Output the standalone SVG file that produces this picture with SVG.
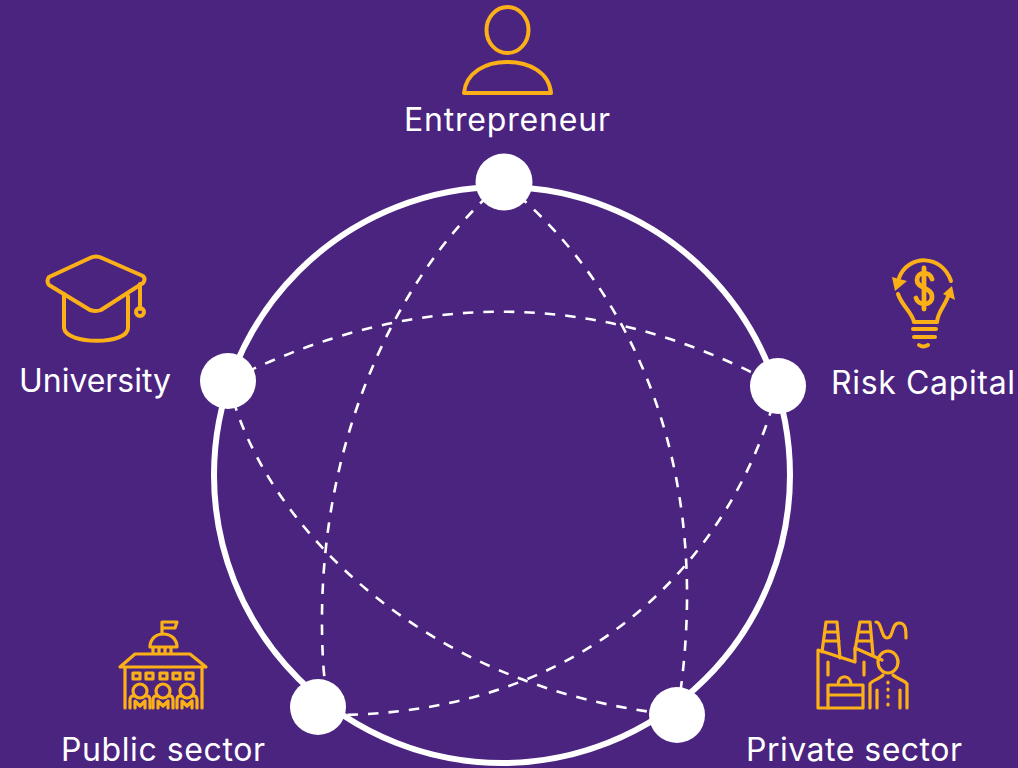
<svg xmlns="http://www.w3.org/2000/svg" width="1018" height="768" viewBox="0 0 1018 768">
<style>
.ic{fill:none;stroke:#fbb017;stroke-width:4;stroke-linejoin:round;stroke-linecap:round}
.th{stroke-width:3.200}
.lb{font-family:"Inter","Noto Sans",sans-serif;font-size:32px;fill:#fff;text-anchor:middle;font-weight:400}
.d{fill:none;stroke:#fff;stroke-width:2.600;stroke-dasharray:10.500 10}
.n{fill:#fff}
.ah{fill:#fbb017}
</style>
<defs>
<g id="person">
<circle class="ic th" cx="0" cy="691" r="7"/>
<path class="ic th" d="M-10 708V700Q-10 695 -5 696M10 708V700Q10 695 5 696M-5 708V701L0 706L5 701V708"/>
</g>
</defs>
<rect width="1018" height="768" fill="#4b2480"/>
<circle cx="502" cy="475" r="288" fill="none" stroke="#fff" stroke-width="6"/>
<g id="connectors">
<path class="d" d="M503 183C420 250 310 420 323 660Q324 680 328 700"/>
<path class="d" d="M503 183C590 250 725 420 677 715"/>
<path class="d" d="M228 381Q510 240 778 386"/>
<path class="d" d="M228 381C260 520 420 690 677 715"/>
<path class="d" d="M778 386C745 520 620 720 319 715"/>
</g>
<g id="entrepreneur">
<ellipse class="ic" cx="507.500" cy="30" rx="21" ry="23"/>
<path class="ic" d="M464 93C466 72 486 62 507 62C529 62 549 72 551 93Z"/>
<text class="lb" x="507" y="131" textLength="206">Entrepreneur</text>
<circle class="n" cx="504" cy="182" r="28.500"/>
</g>
<g id="university">
<path class="ic" d="M90 258L49 277Q46 281 49 285L90 310Q96 312 101 310L143 283Q146 279 143 276L102 258Q96 255 90 258Z"/>
<path class="ic" d="M64 294V328C66 345 128 345 128 328V296"/>
<path class="ic" d="M140 284V309"/>
<circle class="ic" cx="140" cy="312" r="4"/>
<text class="lb" x="95" y="392" textLength="152">University</text>
<circle class="n" cx="228" cy="381" r="28"/>
</g>
<g id="risk-capital">
<path class="ic" d="M899 278C908 254 942 254 951 281"/>
<path class="ah" d="M892 277L907 281L895 291Z"/>
<path class="ah" d="M952 286L955 300L943 294Z"/>
<path class="ic" d="M898 294C902 306 912 312 914 322H937C938 310 946 306 949 293"/>
<path class="ic" d="M913 329H936M914 337H935M919 345Q923 348 928 345"/>
<path class="ic" style="stroke-width:4.800" d="M932 279C930 271 917 271 917 280C917 289 932 287 932 297C932 306 918 306 916 298M924 268V309"/>
<text class="lb" x="923" y="394" textLength="184">Risk Capital</text>
<circle class="n" cx="778" cy="386" r="28"/>
</g>
<g id="public-sector">
<path class="ic th" d="M162 634V622H177L175 628H162"/>
<path class="ic th" d="M150 647C150 639 156 634 163 634C171 634 177 639 177 647Z"/>
<path class="ic th" d="M153 648V653M159 648V653M165 648V653M171 648V653"/>
<path class="ic th" d="M120 667L135 654H190L206 667ZM125 667V708M202 667V708"/>
<path class="ic th" d="M133 673h7v6h-7zM146 673h7v6h-7zM160 673h7v6h-7zM173 673h7v6h-7zM186 673h7v6h-7z"/>
<use href="#person" x="140"/>
<use href="#person" x="163"/>
<use href="#person" x="187"/>
<text class="lb" x="163" y="761" textLength="204">Public sector</text>
<circle class="n" cx="318" cy="707" r="28"/>
</g>
<g id="private-sector">
<path class="ic th" d="M828 708H818V650L855 662V648L882 660"/>
<path class="ic th" d="M822 652L826 622H837L840 658M825 632H838M824 641H839"/>
<path class="ic th" d="M855 650L860 622H870L873 655M859 632H871M858 641H872"/>
<path class="ic th" d="M828 662V675M864 662V675"/>
<path class="ic th" d="M828 685H863V708H828ZM838 685C838 674 851 674 851 685M828 695H863"/>
<path class="ic th" d="M876 622C882 622 881 638 887 638C894 638 891 623 899 623C906 623 906 630 906 638"/>
<ellipse class="ic th" cx="888" cy="662" rx="10" ry="11"/>
<path class="ic th" d="M870 708V684C872 680 880 679 883 675M907 708V684C905 680 897 679 893 675M877 708V690M900 708V690"/>
<path class="ic th" d="M888 682v1M888 689v1M888 696v1M888 704v1"/>
<text class="lb" x="854" y="761" textLength="216">Private sector</text>
<circle class="n" cx="677" cy="715" r="28"/>
</g>
</svg>
